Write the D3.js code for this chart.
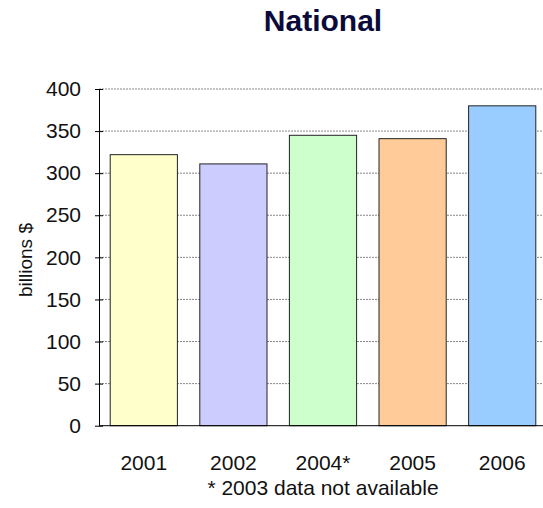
<!DOCTYPE html>
<html><head><meta charset="utf-8">
<script src="https://cdn.jsdelivr.net/npm/d3@7"></script>
<style>body{margin:0;background:#fff}svg{display:block}text{font-family:"Liberation Sans",Arial,sans-serif}</style>
</head><body>
<script>
const categories = ["2001","2002","2004*","2005","2006"];
const values = [322, 311, 345, 341, 380];
const barColors = ["#FFFFCC","#CCCCFF","#CCFFCC","#FFCC99","#99CCFF"];
const yTicks = [0,50,100,150,200,250,300,350,400];
const title = "National";
const yLabel = "billions $";
const footnote = "* 2003 data not available";

const W = 543, H = 508;
const svg = d3.select("body").append("svg").attr("width", W).attr("height", H);
const x0 = 99, x1 = 547, yTop = 89, yBot = 425.7;
const x = d3.scaleBand().domain(categories).range([x0, x1]).paddingInner(0.25).paddingOuter(0.125);
const y = d3.scaleLinear().domain([0, 400]).range([yBot, yTop]);

// gridlines
svg.append("g").selectAll("line").data(yTicks.filter(d => d > 0)).join("line")
  .attr("x1", x0).attr("x2", W).attr("y1", d => y(d)).attr("y2", d => y(d))
  .attr("stroke", "#888").attr("stroke-width", 1).attr("stroke-dasharray", "2,1");

// bars
svg.append("g").selectAll("rect").data(values).join("rect")
  .attr("x", (d, i) => x(categories[i])).attr("width", x.bandwidth())
  .attr("y", d => y(d)).attr("height", d => y(0) - y(d))
  .attr("fill", (d, i) => barColors[i]).attr("stroke", "#222").attr("stroke-width", 1);

// y axis
const yAxis = d3.axisLeft(y).tickValues(yTicks).tickSizeInner(4).tickSizeOuter(0).tickPadding(14);
const gy = svg.append("g").attr("transform", `translate(${x0},0)`).call(yAxis);
gy.select(".domain").attr("stroke", "#000");
gy.selectAll(".tick line").attr("x2", -4).attr("x1", 4).attr("stroke", "#000");
gy.selectAll("text").attr("font-size", 21).attr("fill", "#111").attr("font-family", "Liberation Sans, Arial, sans-serif");

// x axis
const xAxis = d3.axisBottom(x).tickSize(0).tickPadding(29);
const gx = svg.append("g").attr("transform", `translate(0,${yBot})`).call(xAxis);
gx.select(".domain").attr("stroke", "#000").attr("d", `M${x0},0H${W}`);
gx.selectAll("text").attr("font-size", 21).attr("fill", "#111").attr("font-family", "Liberation Sans, Arial, sans-serif");

// title
svg.append("text").attr("x", 323).attr("y", 31).attr("text-anchor", "middle")
  .attr("font-size", 30).attr("font-weight", "bold").attr("fill", "#0B0B3B").text(title);

// y label
svg.append("text").attr("transform", "translate(32,260) rotate(-90)").attr("text-anchor", "middle")
  .attr("font-size", 19).attr("fill", "#111").text(yLabel);

// footnote
svg.append("text").attr("x", 323).attr("y", 495).attr("text-anchor", "middle")
  .attr("font-size", 21).attr("fill", "#111").text(footnote);
</script>
</body></html>
